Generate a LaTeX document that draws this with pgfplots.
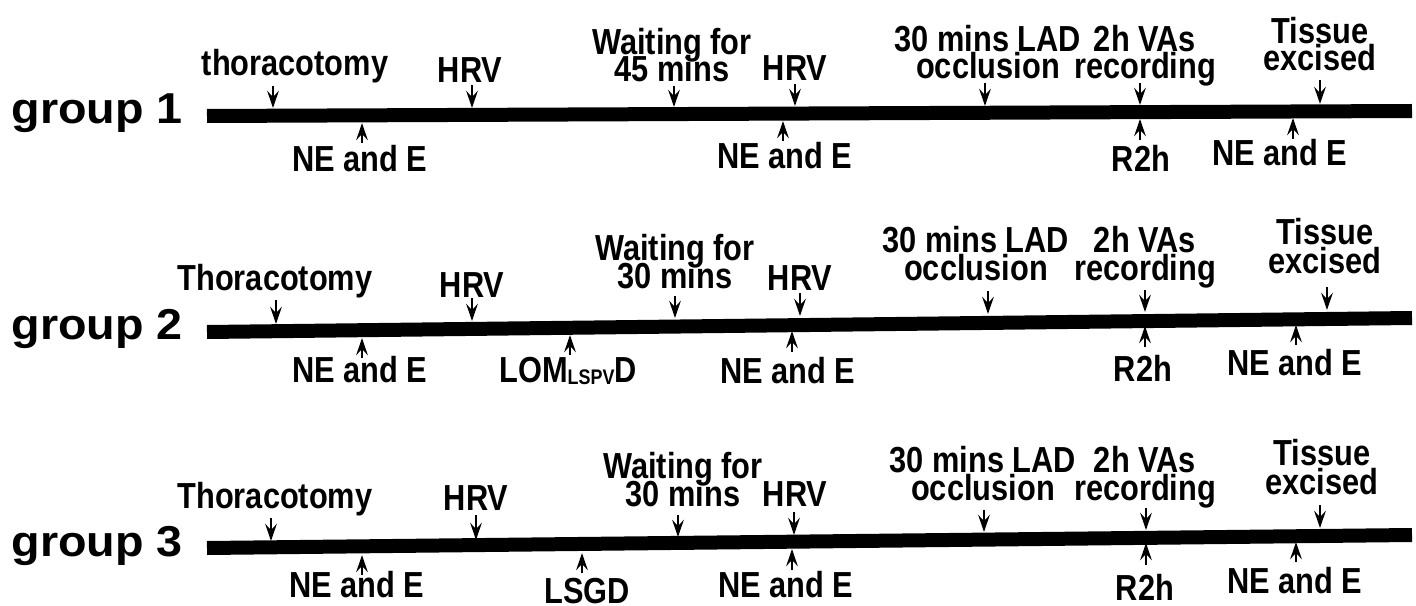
\documentclass[border=0pt]{standalone}
\usepackage{fontspec}
\setmainfont{Liberation Sans}
\newfontfamily\narrowbold[FakeStretch=0.85]{Liberation Sans Bold}
\newfontfamily\widebold[FakeStretch=1.08]{Liberation Sans Bold}
\usepackage{pgfplots}
\pgfplotsset{compat=1.18}
\usetikzlibrary{arrows.meta}
\newcommand{\lab}{\narrowbold\fontsize{10.3}{10.3}\selectfont}
\newcommand{\grp}{\widebold\fontsize{12.3}{12.3}\selectfont}
\begin{document}
\begin{tikzpicture}
\begin{axis}[
  scale only axis, width=14.16cm, height=6.06cm,
  xmin=0, xmax=1416, ymin=0, ymax=606, y dir=reverse,
  hide axis, clip=false,
]
% timeline bars
\addplot[black, line width=0.14cm] coordinates {(207,116) (1412,111)};
\addplot[black, line width=0.14cm] coordinates {(207,332) (1412,318)};
\addplot[black, line width=0.14cm] coordinates {(207,548) (1412,535)};
% down arrows (above the bars): x y v
\addplot[black, line width=0.8pt, quiver={u=0, v=\thisrow{v}},
  -{Stealth[length=0.17cm, width=0.115cm, inset=0.06cm]}] table {
x y v
273 86 22
472 85 23
674 86 21
795 84 22
985 83 23
1140 83 22
1320 80 24
276 300 24
472 298 23
675 296 22
800 293 23
988 291 23
1145 290 22
1327 287 23
271 518 23
476 515 25
678 515 22
794 512 23
984 510 22
1146 508 22
1320 505 23
};
% up arrows (below the bars): x y v
\addplot[black, line width=0.8pt, quiver={u=0, v=\thisrow{v}},
  -{Stealth[length=0.17cm, width=0.115cm, inset=0.06cm]}] table {
x y v
362 143 -20
783 141 -20
1140 140 -21
1293 139 -21
362 358 -20
570 355 -20
792 352 -21
1145 347 -21
1296 345 -20
362 575 -20
582 573 -20
792 570 -21
1146 565 -22
1296 562 -20
};
% group labels
\node[anchor=base west, inner sep=0, font=\grp] at (axis cs:11,124) {group 1};
\node[anchor=base west, inner sep=0, font=\grp] at (axis cs:11,339) {group 2};
\node[anchor=base west, inner sep=0, font=\grp] at (axis cs:11,556) {group 3};
\begin{scope}[every node/.style={anchor=base, inner sep=0, font=\lab}]
% group 1 labels
\node at (axis cs:295,76) {thoracotomy};
\node at (axis cs:470,83) {HRV};
\node at (axis cs:672,55) {Waiting for};
\node at (axis cs:672,82) {45 mins};
\node at (axis cs:795,81) {HRV};
\node at (axis cs:988,52) {30 mins LAD};
\node at (axis cs:988,79) {occlusion};
\node at (axis cs:1145,52) {2h VAs};
\node at (axis cs:1145,79) {recording};
\node at (axis cs:1320,44) {Tissue};
\node at (axis cs:1320,71) {excised};
\node at (axis cs:360,171) {NE and E};
\node at (axis cs:785,169) {NE and E};
\node at (axis cs:1141,171) {R2h};
\node at (axis cs:1280,166) {NE and E};
% group 2
\node at (axis cs:275,290) {Thoracotomy};
\node at (axis cs:472,297) {HRV};
\node at (axis cs:675,260) {Waiting for};
\node at (axis cs:675,288) {30 mins};
\node at (axis cs:800,290) {HRV};
\node at (axis cs:976,253) {30 mins LAD};
\node at (axis cs:976,280) {occlusion};
\node at (axis cs:1145,252) {2h VAs};
\node at (axis cs:1145,280) {recording};
\node at (axis cs:1325,245) {Tissue};
\node at (axis cs:1325,273) {excised};
\node at (axis cs:360,382) {NE and E};
\node at (axis cs:568,382) {LOM\raisebox{-0.6pt}{\fontsize{6}{6}\selectfont LSPV}D};
\node at (axis cs:788,383) {NE and E};
\node at (axis cs:1143,381) {R2h};
\node at (axis cs:1295,375) {NE and E};
% group 3
\node at (axis cs:275,508) {Thoracotomy};
\node at (axis cs:476,510) {HRV};
\node at (axis cs:683,478) {Waiting for};
\node at (axis cs:683,506) {30 mins};
\node at (axis cs:795,506) {HRV};
\node at (axis cs:983,472) {30 mins LAD};
\node at (axis cs:983,500) {occlusion};
\node at (axis cs:1145,472) {2h VAs};
\node at (axis cs:1145,500) {recording};
\node at (axis cs:1322,465) {Tissue};
\node at (axis cs:1322,494) {excised};
\node at (axis cs:357,597) {NE and E};
\node at (axis cs:587,603) {LSGD};
\node at (axis cs:786,597) {NE and E};
\node at (axis cs:1145,600) {R2h};
\node at (axis cs:1295,593) {NE and E};
\end{scope}
\end{axis}
\pgfresetboundingbox
\path[use as bounding box] (current axis.south west) rectangle (current axis.north east);
\end{tikzpicture}
\end{document}
